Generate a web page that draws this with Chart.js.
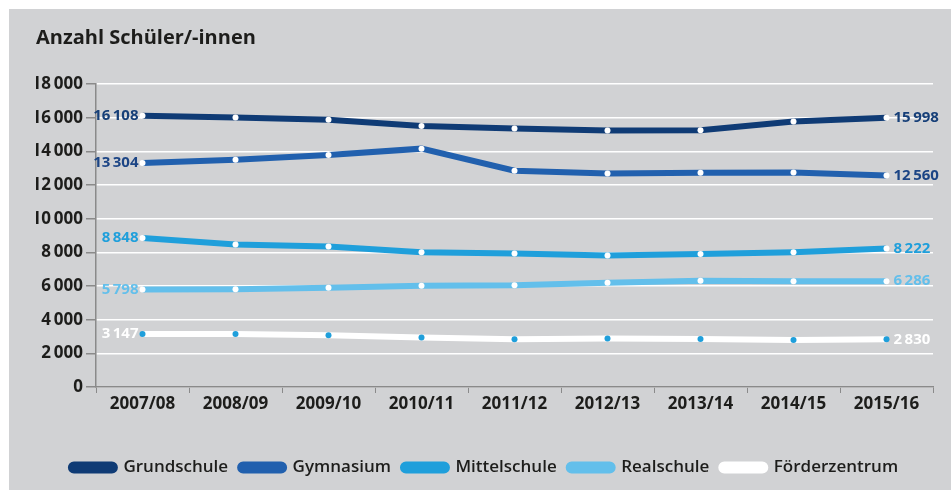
<!DOCTYPE html>
<html>
<head>
<meta charset="utf-8">
<script src="https://cdn.jsdelivr.net/npm/chart.js@4"></script>
<style>
  body { margin: 0; background: #fff; }
  #wrap { position: absolute; left: 9px; top: 9px; width: 942px; height: 481px; background: #d1d2d4; }
</style>
</head>
<body>
<div id="wrap"><canvas id="schulChart" width="942" height="481"></canvas></div>
<script>
var years = ["2007/08", "2008/09", "2009/10", "2010/11", "2011/12", "2012/13", "2013/14", "2014/15", "2015/16"];
var grundschule = [16108, 16010, 15870, 15510, 15360, 15240, 15250, 15770, 15998];
var gymnasium = [13304, 13500, 13780, 14160, 12850, 12680, 12730, 12740, 12560];
var mittelschule = [8848, 8460, 8340, 8010, 7930, 7810, 7900, 8000, 8222];
var realschule = [5798, 5800, 5900, 6020, 6040, 6200, 6310, 6276, 6286];
var foerderzentrum = [3147, 3150, 3080, 2940, 2830, 2880, 2850, 2790, 2830];

var textColor = '#1d1d1b';
var fontFam = '"Open Sans", "Noto Sans", sans-serif';

function fmt(v) {
    var s = String(v);
    if (s.length > 3) s = s.slice(0, s.length - 3) + '\u2009' + s.slice(s.length - 3);
    return s;
}

// first / last value next to each line
var endLabels = {
    id: 'endLabels',
    afterDatasetsDraw: function (chart) {
        var ctx = chart.ctx;
        ctx.save();
        ctx.font = 'bold 15px ' + fontFam;
        ctx.textBaseline = 'middle';
        chart.data.datasets.forEach(function (ds, i) {
            var pts = chart.getDatasetMeta(i).data;
            var first = pts[0], last = pts[pts.length - 1];
            ctx.fillStyle = ds.labelColor;
            ctx.textAlign = 'right';
            ctx.fillText(fmt(ds.data[0]), first.x - 4, first.y);
            ctx.textAlign = 'left';
            ctx.fillText(fmt(ds.data[ds.data.length - 1]), last.x + 7, last.y);
        });
        ctx.restore();
    }
};

function series(label, data, color, dotColor, labelColor) {
    return {
        label: label,
        data: data,
        borderColor: color,
        backgroundColor: color,
        labelColor: labelColor,
        borderWidth: 6,
        tension: 0,
        pointRadius: 3,
        pointBorderWidth: 0,
        pointBackgroundColor: dotColor,
        pointHoverRadius: 3
    };
}

var ctx = document.getElementById("schulChart").getContext("2d");
var lineChart = new Chart(ctx, {
    type: 'line',
    data: {
        labels: years,
        datasets: [
            series('Grundschule', grundschule, '#0f3b75', '#ffffff', '#163f78'),
            series('Gymnasium', gymnasium, '#2160ae', '#ffffff', '#1c4585'),
            series('Mittelschule', mittelschule, '#1f9fdb', '#ffffff', '#1f9fdb'),
            series('Realschule', realschule, '#63bfeb', '#ffffff', '#63bfeb'),
            series('Förderzentrum', foerderzentrum, '#ffffff', '#1f9fdb', '#ffffff')
        ]
    },
    options: {
        responsive: false,
        animation: false,
        layout: { padding: { top: 0, left: 27, right: 18, bottom: 4 } },
        plugins: {
            title: {
                display: true,
                text: 'Anzahl Schüler/-innen',
                align: 'start',
                color: textColor,
                font: { family: fontFam, size: 20, weight: 'bold' },
                padding: { top: 17, bottom: 34 }
            },
            legend: {
                position: 'bottom',
                labels: {
                    color: textColor,
                    font: { family: fontFam, size: 17, weight: '600' },
                    boxWidth: 44,
                    boxHeight: 6,
                    useBorderRadius: true,
                    borderRadius: 3,
                    padding: 12
                }
            },
            tooltip: { enabled: false }
        },
        scales: {
            x: {
                offset: true,
                grid: { offset: true, drawOnChartArea: false, color: '#8a8a8a', tickLength: 6 },
                border: { color: '#8a8a8a', width: 1.5 },
                ticks: {
                    color: textColor,
                    font: { family: fontFam, size: 17, weight: 'bold' },
                    padding: 1,
                    maxRotation: 0
                },
                afterFit: function (axis) { axis.height = 60; }
            },
            y: {
                min: 0,
                max: 18000,
                ticks: {
                    stepSize: 2000,
                    color: textColor,
                    font: { family: fontFam, size: 17, weight: 'bold' },
                    padding: 3,
                    callback: function (v) { return fmt(v); }
                },
                grid: { color: '#ffffff', lineWidth: 1.5, tickColor: '#8a8a8a', tickLength: 10 },
                border: { color: '#8a8a8a', width: 1.5 },
                afterFit: function (axis) { axis.width = 60; }
            }
        }
    },
    plugins: [endLabels]
});
</script>
</body>
</html>
